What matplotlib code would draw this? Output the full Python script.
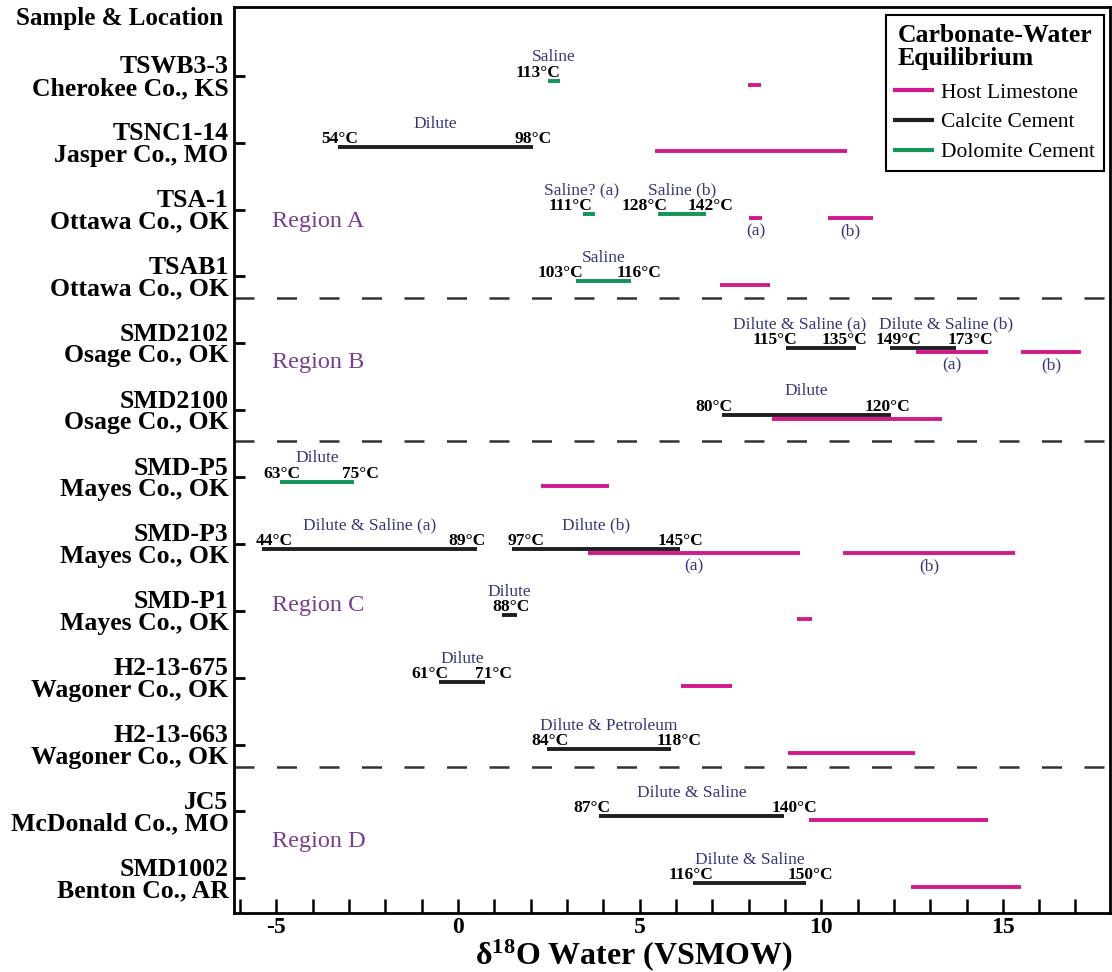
import matplotlib
matplotlib.use("Agg")
import matplotlib.pyplot as plt
from matplotlib.lines import Line2D
from matplotlib.ticker import MultipleLocator

plt.rcParams['font.family'] = ['Liberation Serif', 'DejaVu Serif']
plt.rcParams['mathtext.default'] = 'regular'
plt.rcParams['axes.unicode_minus'] = False

# ---------------- data ----------------
samples = ["TSWB3-3", "TSNC1-14", "TSA-1", "TSAB1", "SMD2102", "SMD2100",
           "SMD-P5", "SMD-P3", "SMD-P1", "H2-13-675", "H2-13-663", "JC5", "SMD1002"]
locations = ["Cherokee Co., KS", "Jasper Co., MO", "Ottawa Co., OK", "Ottawa Co., OK",
             "Osage Co., OK", "Osage Co., OK", "Mayes Co., OK", "Mayes Co., OK",
             "Mayes Co., OK", "Wagoner Co., OK", "Wagoner Co., OK", "McDonald Co., MO",
             "Benton Co., AR"]

# cement (calcite / dolomite) ranges of d18O water
cement_row = [0, 1, 2, 2, 3, 4, 4, 5, 6, 7, 7, 8, 9, 10, 11, 12]
cement_type = ["Dolomite", "Calcite", "Dolomite", "Dolomite", "Dolomite", "Calcite",
               "Calcite", "Calcite", "Dolomite", "Calcite", "Calcite", "Calcite",
               "Calcite", "Calcite", "Calcite", "Calcite"]
cement_lo = [2.48, -3.30, 3.44, 5.51, 3.25, 9.03, 11.89, 7.27, -4.90, -5.39, 1.49,
             1.21, -0.52, 2.45, 3.88, 6.47]
cement_hi = [2.81, 2.06, 3.77, 6.83, 4.76, 10.95, 13.71, 11.92, -2.86, 0.52, 6.11,
             1.62, 0.74, 5.86, 8.97, 9.58]
temp_lo = ["", "54°C", "", "128°C", "103°C", "115°C", "149°C", "80°C", "63°C", "44°C",
           "97°C", "", "61°C", "84°C", "87°C", "116°C"]
temp_hi = ["113°C", "98°C", "111°C", "142°C", "116°C", "135°C", "173°C", "120°C", "75°C",
           "89°C", "145°C", "88°C", "71°C", "118°C", "140°C", "150°C"]
fluid = ["Saline", "Dilute", "Saline? (a)", "Saline (b)", "Saline", "Dilute & Saline (a)",
         "Dilute & Saline (b)", "Dilute", "Dilute", "Dilute & Saline (a)", "Dilute (b)",
         "Dilute", "Dilute", "Dilute & Petroleum", "Dilute & Saline", "Dilute & Saline"]

# host limestone ranges
host_row = [0, 1, 2, 2, 3, 4, 4, 5, 6, 7, 7, 8, 9, 10, 11, 12]
host_lo = [7.98, 5.42, 8.01, 10.18, 7.21, 12.61, 15.50, 8.64, 2.28, 3.58, 10.60, 9.33,
           6.14, 9.08, 9.66, 12.47]
host_hi = [8.34, 10.71, 8.37, 11.42, 8.59, 14.59, 17.15, 13.32, 4.16, 9.41, 15.33, 9.74,
           7.54, 12.58, 14.59, 15.50]
host_tag = ["", "", "(a)", "(b)", "", "(a)", "(b)", "", "", "(a)", "(b)", "", "", "", "", ""]

regions = ["Region A", "Region B", "Region C", "Region D"]

# ---------------- style / layout ----------------
COL = {"Host": "#d3188d", "Calcite": "#1f1f1f", "Dolomite": "#14935b"}
FLUID_C = "#363679"
REGION_C = "#7a3e8d"
LW = 2.8
region_y = [2.18, 4.29, 7.92, 11.45]
divider_y = [3.32, 5.46, 10.34]
fluid_align = {2: ("center", -0.2), 5: ("right", 0.3), 6: ("left", -0.3)}
# nudges of the temperature labels (x units) relative to the line ends
nudge_lo = [0, 0.55, 0, 0.25, 0.2, 0.3, 0.88, 0.28, 0.55, 0.85, 0.9, 0, 0.25, 0.58, 0.33, 0.55]
nudge_hi = [0.0, -0.5, -0.08, -0.5, -0.39, -0.94, -0.22, -0.72, -0.33, -0.8, -0.63, 0.36,
            -0.28, -0.39, -0.33, -0.52]

fig = plt.figure(figsize=(11.12, 9.72), dpi=100)
ax = fig.add_axes([234/1112, 1-913/972, (1110-234)/1112, (913-7)/972])
ax.set_xlim(-6.17, 17.95)
ax.set_ylim(12.52, -1.03)

for lo, hi, r, tag in zip(host_lo, host_hi, host_row, host_tag):
    y = r + 0.13
    ax.plot([lo, hi], [y, y], color=COL["Host"], lw=LW, solid_capstyle='butt', zorder=2)
    if tag:
        ax.text((lo + hi) / 2, y + 0.2, tag, ha='center', va='center',
                color=FLUID_C, fontsize=12.5)

for i, (lo, hi, r, t) in enumerate(zip(cement_lo, cement_hi, cement_row, cement_type)):
    y = r + 0.07
    ax.plot([lo, hi], [y, y], color=COL[t], lw=LW, solid_capstyle='butt', zorder=3)
    tl, th = temp_lo[i], temp_hi[i]
    if tl:
        ax.text(lo + nudge_lo[i], y - 0.06, tl, ha='right', va='baseline',
                fontweight='bold', fontsize=12.5, zorder=4)
        ax.text(hi + nudge_hi[i], y - 0.06, th, ha='left', va='baseline',
                fontweight='bold', fontsize=12.5, zorder=4)
    else:
        ax.text(hi + nudge_hi[i], y - 0.06, th, ha='right', va='baseline',
                fontweight='bold', fontsize=12.5, zorder=4)
    if i in fluid_align:
        ha, dx = fluid_align[i]
        fx = {'right': hi, 'left': lo, 'center': (lo + hi) / 2}[ha] + dx
    else:
        ha, fx = 'center', (lo + hi) / 2
    ax.text(fx, y - 0.29, fluid[i], ha=ha, va='baseline', color=FLUID_C, fontsize=12.5)

for name, ry in zip(regions, region_y):
    ax.text(-5.12, ry, name, ha='left', va='center', color=REGION_C, fontsize=17.5)

for dy in divider_y:
    ax.axhline(dy, color='#333333', lw=1.8, ls=(0, (8, 9)), zorder=1)

ax.set_yticks(range(len(samples)))
ax.set_yticklabels([f"{s}\n{l}" for s, l in zip(samples, locations)],
                   fontweight='bold', fontsize=18.5, linespacing=0.92)
ax.tick_params(axis='y', direction='in', length=8, width=2, pad=4)

ax.xaxis.set_major_locator(MultipleLocator(5))
ax.xaxis.set_minor_locator(MultipleLocator(1))
ax.tick_params(axis='x', which='both', direction='in', length=10, width=1.8, pad=3)
for lab in ax.get_xticklabels():
    lab.set_fontweight('bold')
    lab.set_fontsize(17)

for sp in ax.spines.values():
    sp.set_linewidth(2)

fig.text(223/1112, 1-18/972, "Sample & Location", ha='right', va='center',
         fontweight='bold', fontsize=18)
fig.text(634/1112, 1-964/972, "δ$^{18}$O Water (VSMOW)", ha='center', va='baseline',
         fontweight='bold', fontsize=23)

handles = [Line2D([], [], color=COL["Host"], lw=3),
           Line2D([], [], color=COL["Calcite"], lw=3),
           Line2D([], [], color=COL["Dolomite"], lw=3)]
leg = ax.legend(handles, ["Host Limestone", "Calcite Cement", "Dolomite Cement"],
                title="Carbonate-Water\nEquilibrium", loc='upper right',
                bbox_to_anchor=(1104/1112, 1-15/972), bbox_transform=fig.transFigure,
                borderaxespad=0, fontsize=15.5, handlelength=1.75, handletextpad=0.4,
                labelspacing=0.45, borderpad=0.42, fancybox=False, framealpha=1,
                title_fontproperties={'weight': 'bold', 'size': 18.5})
leg.get_frame().set_edgecolor('black')
leg.get_frame().set_linewidth(1.5)
leg.get_title().set_linespacing(1.0)
leg._legend_box.sep = 9

fig.savefig("out.png", dpi=100)
